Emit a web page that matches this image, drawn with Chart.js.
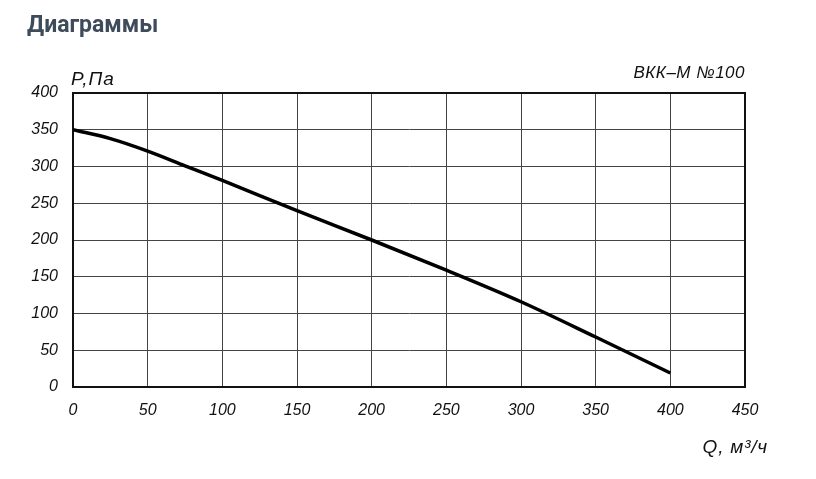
<!DOCTYPE html>
<html>
<head>
<meta charset="utf-8">
<script src="https://cdn.jsdelivr.net/npm/chart.js@4/dist/chart.umd.min.js"></script>
<style>
  html, body { margin: 0; padding: 0; background: #fff; }
  #wrap { position: relative; width: 816px; height: 479px; }
</style>
</head>
<body>
<div id="wrap"><canvas id="myChart" width="816" height="479"></canvas></div>
<script>
// data
const flowQ = [0, 25, 50, 75, 100, 150, 200, 250, 300, 350, 400];
const pressureP = [350, 338, 321, 301, 281, 240, 200, 159, 116, 68, 19];
const xTicks = [0, 50, 100, 150, 200, 250, 300, 350, 400, 450];
const yTicks = [0, 50, 100, 150, 200, 250, 300, 350, 400];

Chart.defaults.font.family = 'Liberation Sans';
Chart.defaults.font.style = 'italic';
Chart.defaults.font.size = 16;
const tickFont = { family: 'Liberation Sans', size: 16, style: 'italic' };

// extra text: heading, axis names, model label
const labelsPlugin = {
    id: 'labels',
    afterDraw(chart) {
        const c = chart.ctx;
        const a = chart.chartArea;
        c.save();
        c.fillStyle = '#3d4b5b';
        c.font = 'bold 23px Roboto';
        c.textAlign = 'left';
        c.textBaseline = 'alphabetic';
        c.fillText('Диаграммы', 27, 32);

        c.fillStyle = '#111';
        c.letterSpacing = '1px';
        c.font = 'italic 19px "Liberation Sans"';
        c.fillText('P,Па', a.left - 2, 85);
        c.font = 'italic 17px "Liberation Sans"';
        c.textAlign = 'right';
        c.letterSpacing = '0.5px';
        c.fillText('ВКК–М №100', a.right, 78);
        c.letterSpacing = '0.8px';
        c.font = 'italic 19px "Liberation Sans"';
        c.fillText('Q, м³/ч', 768, 453);
        c.restore();
    }
};

// right + top frame lines
const framePlugin = {
    id: 'frame',
    beforeDatasetsDraw(chart) {
        const c = chart.ctx, a = chart.chartArea;
        c.save();
        c.strokeStyle = '#111';
        c.lineWidth = 2;
        c.beginPath();
        c.moveTo(a.left, a.top);
        c.lineTo(a.right, a.top);
        c.lineTo(a.right, a.bottom);
        c.stroke();
        c.restore();
    }
};

const config = {
    type: 'line',
    data: {
        datasets: [{
            data: flowQ.map((q, i) => ({ x: q, y: pressureP[i] })),
            borderColor: '#000',
            borderWidth: 3.5,
            pointRadius: 0,
            cubicInterpolationMode: 'monotone',
            fill: false,
        }]
    },
    options: {
        responsive: false,
        animation: false,
        layout: { padding: { top: 93, right: 71, bottom: 0, left: 0 } },
        plugins: { legend: { display: false }, tooltip: { enabled: false } },
        scales: {
            x: {
                type: 'linear',
                min: 0,
                max: 450,
                afterBuildTicks: s => { s.ticks = xTicks.map(v => ({ value: v })); },
                afterFit: s => { s.height = 92; },
                grid: { color: '#444', lineWidth: 1, drawTicks: false },
                border: { color: '#111', width: 2 },
                ticks: { font: tickFont, color: '#111', padding: 14, maxRotation: 0 },
            },
            y: {
                min: 0,
                max: 400,
                afterBuildTicks: s => { s.ticks = yTicks.map(v => ({ value: v })); },
                afterFit: s => { s.width = 73; },
                grid: { color: '#444', lineWidth: 1, drawTicks: false },
                border: { color: '#111', width: 2 },
                ticks: { font: tickFont, color: '#111', padding: 15 },
            }
        }
    },
    plugins: [labelsPlugin, framePlugin]
};

const ctx = document.getElementById('myChart');
const myChart = new Chart(ctx, config);
</script>
</body>
</html>
